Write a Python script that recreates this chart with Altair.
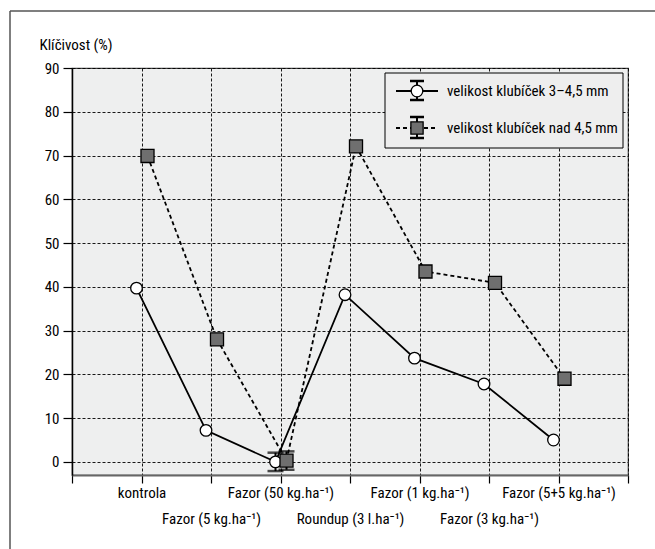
import json
import altair as alt
import pandas as pd

# ---- data -------------------------------------------------------------
categories = [
    "kontrola",
    "Fazor (5 kg.ha⁻¹)",
    "Fazor (50 kg.ha⁻¹)",
    "Roundup (3 l.ha⁻¹)",
    "Fazor (1 kg.ha⁻¹)",
    "Fazor (3 kg.ha⁻¹)",
    "Fazor (5+5 kg.ha⁻¹)",
]
positions = [1, 2, 3, 4, 5, 6, 7]
small_values = [39.7, 7.2, 0.0, 38.2, 23.7, 17.8, 5.0]     # velikost klubíček 3–4,5 mm
large_values = [69.9, 28.0, 0.3, 72.1, 43.5, 40.9, 19.0]   # velikost klubíček nad 4,5 mm
small_err = [0, 0, 2.1, 0, 0, 0, 0]
large_err = [0, 0, 2.1, 0, 0, 0, 0]
series_names = ["velikost klubíček 3–4,5 mm", "velikost klubíček nad 4,5 mm"]
y_ticks = [0, 10, 20, 30, 40, 50, 60, 70, 80, 90]
x_ticks = [0, 1, 2, 3, 4, 5, 6, 7, 8]

FONT = "Liberation Sans Narrow, Roboto Condensed, DejaVu Sans Condensed, Liberation Sans, sans-serif"
FS = 15

small_df = pd.DataFrame({"pos": positions, "cat": categories, "val": small_values,
                         "lo": [v - e for v, e in zip(small_values, small_err)],
                         "hi": [v + e for v, e in zip(small_values, small_err)],
                         "err": small_err})
large_df = pd.DataFrame({"pos": positions, "cat": categories, "val": large_values,
                         "lo": [v - e for v, e in zip(large_values, large_err)],
                         "hi": [v + e for v, e in zip(large_values, large_err)],
                         "err": large_err})

label_list = json.dumps(categories, ensure_ascii=False)
label_expr = (
    f"(datum.value >= 1 && datum.value <= 7) ? "
    f"(datum.value % 2 == 0 ? ['', {label_list}[datum.value - 1]] : {label_list}[datum.value - 1]) : ''"
)

x_scale = alt.Scale(domain=[0, 8], nice=False, zero=False)
y_scale = alt.Scale(domain=[-3, 90], nice=False, zero=False)

x_axis = alt.Axis(
    values=x_ticks, labelExpr=label_expr, title=None, grid=True,
    gridDash=[3, 2], gridColor="#000000", gridWidth=1, gridOpacity=0.9,
    domainColor="#666666", domainWidth=2, tickColor="#000000", tickSize=8,
    tickWidth=1.2, labelFont=FONT, labelFontSize=FS, labelColor="#000000",
    labelPadding=2, labelLineHeight=26, labelOverlap=False, labelFlush=False,
    labelBaseline="top",
)
y_axis = alt.Axis(
    values=y_ticks, title="Klíčivost (%)", titleAngle=0, titleAlign="left",
    titleBaseline="bottom", titleX=-33, titleY=-16, titleFont=FONT,
    titleFontSize=FS, titleFontWeight="normal", titleColor="#000000",
    grid=True, gridDash=[3, 2], gridColor="#000000", gridWidth=1, gridOpacity=0.9,
    domainColor="#000000", domainWidth=1.5, tickColor="#000000", tickSize=9,
    tickWidth=1.2, labelFont=FONT, labelFontSize=FS, labelColor="#000000",
    labelPadding=4,
)

X = alt.X("pos:Q", scale=x_scale, axis=x_axis)
Y = alt.Y("val:Q", scale=y_scale, axis=y_axis)

OFF_S = -5
OFF_L = 6

# base axes layer
base = alt.Chart(small_df).mark_point(opacity=0).encode(x=X, y=Y)

line_small = alt.Chart(small_df).mark_line(color="black", strokeWidth=1.8, xOffset=OFF_S).encode(
    x=alt.X("pos:Q", scale=x_scale), y=alt.Y("val:Q", scale=y_scale))
line_large = alt.Chart(large_df).mark_line(color="black", strokeWidth=1.8, strokeDash=[4, 3], xOffset=OFF_L).encode(
    x=alt.X("pos:Q", scale=x_scale), y=alt.Y("val:Q", scale=y_scale))


def errbars(df, off):
    d = alt.Chart(df).transform_filter("datum.err > 0")
    rule = d.mark_rule(color="black", strokeWidth=2, xOffset=off).encode(
        x=alt.X("pos:Q", scale=x_scale), y=alt.Y("lo:Q", scale=y_scale), y2="hi:Q")
    cap_lo = d.mark_tick(color="black", orient="horizontal", size=16, thickness=2.5, xOffset=off).encode(
        x=alt.X("pos:Q", scale=x_scale), y=alt.Y("lo:Q", scale=y_scale))
    cap_hi = d.mark_tick(color="black", orient="horizontal", size=16, thickness=2.5, xOffset=off).encode(
        x=alt.X("pos:Q", scale=x_scale), y=alt.Y("hi:Q", scale=y_scale))
    return rule + cap_lo + cap_hi


pts_small = alt.Chart(small_df).mark_point(
    shape="circle", filled=True, fill="white", stroke="black", strokeWidth=1.3,
    size=135, opacity=1, xOffset=OFF_S).encode(
    x=alt.X("pos:Q", scale=x_scale), y=alt.Y("val:Q", scale=y_scale))
pts_large = alt.Chart(large_df).mark_point(
    shape="square", filled=True, fill="#6f6f6f", stroke="black", strokeWidth=1.3,
    size=170, opacity=1, xOffset=OFF_L).encode(
    x=alt.X("pos:Q", scale=x_scale), y=alt.Y("val:Q", scale=y_scale))

# ---- legend (drawn manually) -----------------------------------------
one = pd.DataFrame({"k": [0]})
leg_box = alt.Chart(one).mark_rect(fill="#eeeeee", stroke="black", strokeWidth=1).encode(
    x=alt.value(313), x2=alt.value(551), y=alt.value(5), y2=alt.value(80))

leg_items = []
rows = [(23, 13, 32, "solid"), (60, 49, 70, "dash")]
for (yy, ylo, yhi, style), name in zip(rows, series_names):
    ln = alt.Chart(one).mark_rule(color="black", strokeWidth=1.8,
                                  strokeDash=[4, 3] if style == "dash" else [1, 0]).encode(
        x=alt.value(324), x2=alt.value(366), y=alt.value(yy))
    eb = alt.Chart(one).mark_rule(color="black", strokeWidth=2).encode(
        x=alt.value(345), y=alt.value(ylo), y2=alt.value(yhi))
    c1 = alt.Chart(one).mark_rule(color="black", strokeWidth=2.5).encode(
        x=alt.value(338), x2=alt.value(352), y=alt.value(ylo))
    c2 = alt.Chart(one).mark_rule(color="black", strokeWidth=2.5).encode(
        x=alt.value(338), x2=alt.value(352), y=alt.value(yhi))
    if style == "solid":
        sym = alt.Chart(one).mark_point(shape="circle", filled=True, fill="white", stroke="black",
                                        strokeWidth=1.3, size=135, opacity=1).encode(
            x=alt.value(345), y=alt.value(yy))
    else:
        sym = alt.Chart(one).mark_point(shape="square", filled=True, fill="#6f6f6f", stroke="black",
                                        strokeWidth=1.3, size=150, opacity=1).encode(
            x=alt.value(345), y=alt.value(yy))
    txt = alt.Chart(pd.DataFrame({"t": [name]})).mark_text(
        align="left", baseline="middle", font=FONT, fontSize=FS, color="black").encode(
        x=alt.value(375), y=alt.value(yy), text="t:N")
    leg_items += [ln, eb, c1, c2, sym, txt]

# ---- outer frame ------------------------------------------------------
frame_left = alt.Chart(one).mark_rule(color="#555555", strokeWidth=1.5).encode(
    x=alt.value(-62), y=alt.value(-57), y2=alt.value(481))
frame_top = alt.Chart(one).mark_rule(color="#555555", strokeWidth=1.5).encode(
    x=alt.value(-62), x2=alt.value(583), y=alt.value(-57))

chart = alt.layer(
    base, line_small, line_large, errbars(small_df, OFF_S), errbars(large_df, OFF_L),
    pts_small, pts_large, leg_box, *leg_items, frame_left, frame_top,
).properties(
    width=556, height=407,
    autosize=alt.AutoSizeParams(type="none"),
    padding={"left": 72, "top": 68, "right": 27, "bottom": 74},
    background="white",
).configure_view(
    fill="#eeefef", stroke="#444444", strokeWidth=1.2,
)

chart.save("out.html", embed_options={"renderer": "svg", "actions": False})
